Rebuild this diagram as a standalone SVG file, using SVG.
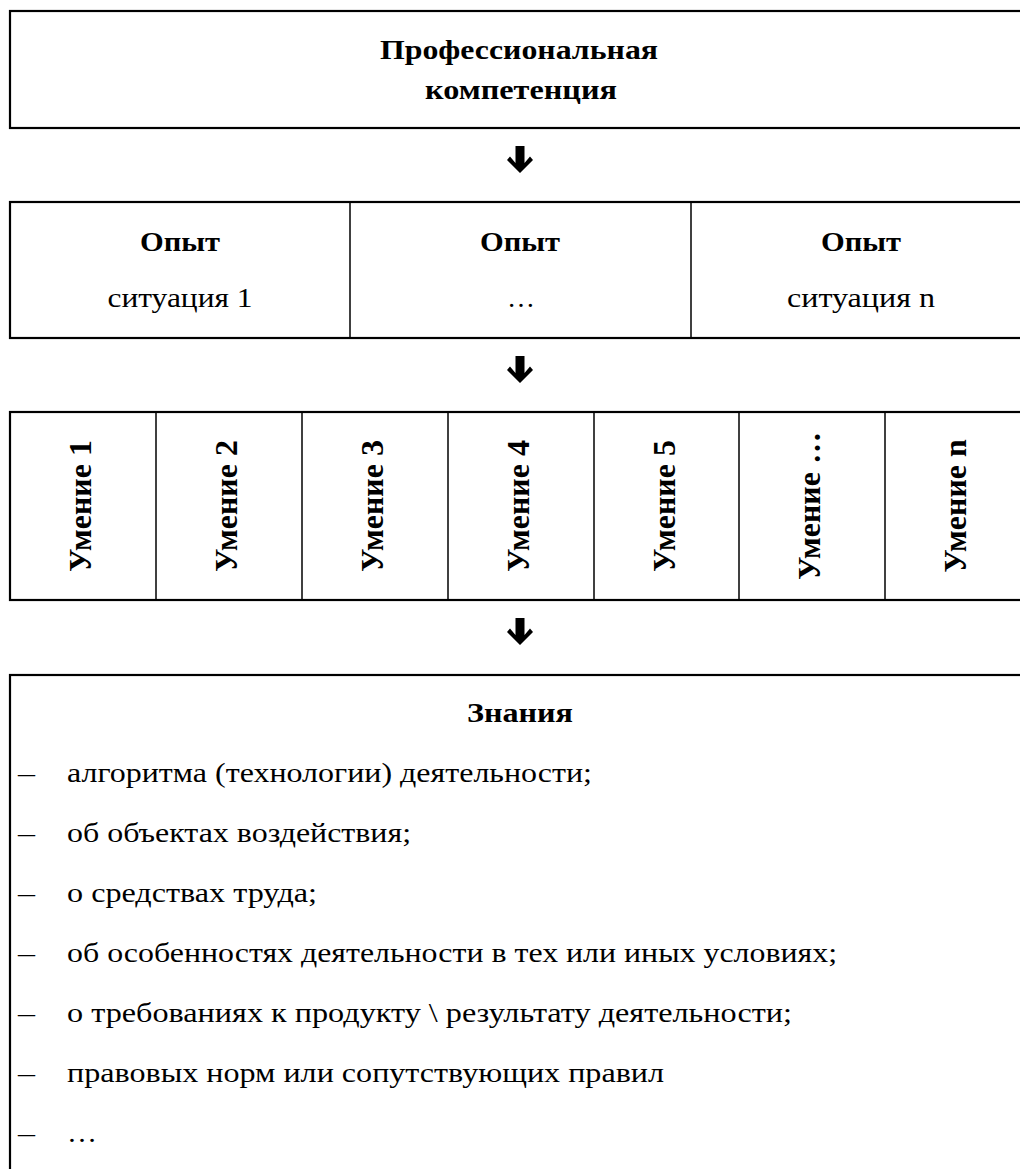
<svg xmlns="http://www.w3.org/2000/svg" width="1020" height="1169" viewBox="0 0 1020 1169">
<defs>
<style>
.box{fill:#fff;stroke:#000;stroke-width:2.2}
.div{stroke:#000;stroke-width:1.5}
text{font-family:"Liberation Serif","Times New Roman",serif;fill:#000}
.b{font-weight:bold;font-size:27px;text-anchor:middle}
.r{font-size:27px}
.rc{font-size:27px;text-anchor:middle}
.v{font-weight:bold;font-size:32px;text-anchor:middle}
.arr{fill:#000}
</style>
<path id="arrow" d="M-4.5,0 H4.5 V17 L10,10.5 L13,14 L0,27 L-13,14 L-10,10.5 L-4.5,17 Z"/>
</defs>
<g id="connectors">
<use href="#arrow" class="arr" x="520" y="146"/>
<use href="#arrow" class="arr" x="520" y="356"/>
<use href="#arrow" class="arr" x="520" y="618"/>
</g>
<g id="node-competence">
<rect class="box" x="10" y="11" width="1021" height="117"/>
<text class="b" x="519" y="59" textLength="278" lengthAdjust="spacingAndGlyphs">Профессиональная</text>
<text class="b" x="521" y="99" textLength="192" lengthAdjust="spacingAndGlyphs">компетенция</text>
</g>
<g id="node-experience">
<rect class="box" x="10" y="202" width="1021" height="136"/>
<line class="div" x1="350" y1="202" x2="350" y2="338"/>
<line class="div" x1="691" y1="202" x2="691" y2="338"/>
<text class="b" x="180" y="251" textLength="80" lengthAdjust="spacingAndGlyphs">Опыт</text>
<text class="b" x="520" y="251" textLength="80" lengthAdjust="spacingAndGlyphs">Опыт</text>
<text class="b" x="861" y="251" textLength="80" lengthAdjust="spacingAndGlyphs">Опыт</text>
<text class="rc" x="180" y="307" textLength="145" lengthAdjust="spacingAndGlyphs">ситуация 1</text>
<text class="rc" x="521" y="307" textLength="28" lengthAdjust="spacingAndGlyphs">…</text>
<text class="rc" x="861" y="307" textLength="148" lengthAdjust="spacingAndGlyphs">ситуация n</text>
</g>
<g id="node-skills">
<rect class="box" x="10" y="412" width="1021" height="188"/>
<line class="div" x1="156" y1="412" x2="156" y2="600"/>
<line class="div" x1="302" y1="412" x2="302" y2="600"/>
<line class="div" x1="448" y1="412" x2="448" y2="600"/>
<line class="div" x1="594" y1="412" x2="594" y2="600"/>
<line class="div" x1="739" y1="412" x2="739" y2="600"/>
<line class="div" x1="885" y1="412" x2="885" y2="600"/>
<text class="v" transform="translate(91,506) rotate(-90)">Умение 1</text>
<text class="v" transform="translate(237,506) rotate(-90)">Умение 2</text>
<text class="v" transform="translate(383,506) rotate(-90)">Умение 3</text>
<text class="v" transform="translate(529,506) rotate(-90)">Умение 4</text>
<text class="v" transform="translate(675,506) rotate(-90)">Умение 5</text>
<text class="v" transform="translate(820,506) rotate(-90)">Умение …</text>
<text class="v" transform="translate(966,506) rotate(-90)">Умение n</text>
</g>
<g id="node-knowledge">
<rect class="box" x="10" y="675" width="1021" height="520"/>
<text class="b" x="520" y="722" textLength="106" lengthAdjust="spacingAndGlyphs">Знания</text>
<g class="r">
<text x="18" y="782" textLength="17" lengthAdjust="spacingAndGlyphs">–</text>
<text x="67" y="782" textLength="525" lengthAdjust="spacingAndGlyphs">алгоритма (технологии) деятельности;</text>
<text x="18" y="842" textLength="17" lengthAdjust="spacingAndGlyphs">–</text>
<text x="67" y="842" textLength="344" lengthAdjust="spacingAndGlyphs">об объектах воздействия;</text>
<text x="18" y="902" textLength="17" lengthAdjust="spacingAndGlyphs">–</text>
<text x="67" y="902" textLength="250" lengthAdjust="spacingAndGlyphs">о средствах труда;</text>
<text x="18" y="962" textLength="17" lengthAdjust="spacingAndGlyphs">–</text>
<text x="67" y="962" textLength="770" lengthAdjust="spacingAndGlyphs">об особенностях деятельности в тех или иных условиях;</text>
<text x="18" y="1022" textLength="17" lengthAdjust="spacingAndGlyphs">–</text>
<text x="67" y="1022" textLength="725" lengthAdjust="spacingAndGlyphs">о требованиях к продукту \ результату деятельности;</text>
<text x="18" y="1082" textLength="17" lengthAdjust="spacingAndGlyphs">–</text>
<text x="67" y="1082" textLength="597" lengthAdjust="spacingAndGlyphs">правовых норм или сопутствующих правил</text>
<text x="18" y="1142" textLength="17" lengthAdjust="spacingAndGlyphs">–</text>
<text x="67" y="1142" textLength="30" lengthAdjust="spacingAndGlyphs">…</text>
</g>
</g>
</svg>
